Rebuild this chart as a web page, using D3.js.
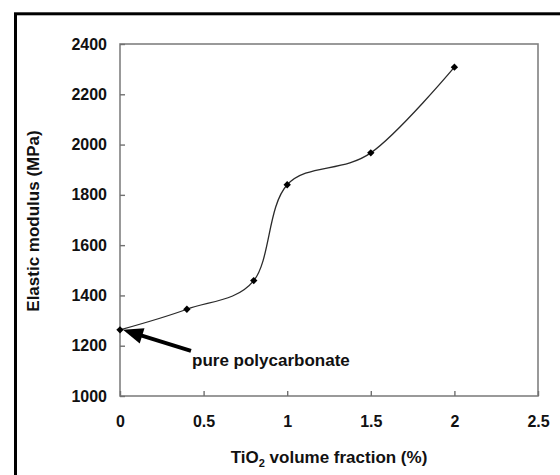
<!DOCTYPE html>
<html><head><meta charset="utf-8">
<script src="https://cdn.jsdelivr.net/npm/d3@7"></script>
<style>
html,body{margin:0;padding:0;background:#fff;}
svg{display:block;}
text{font-family:"Liberation Sans",Arial,sans-serif;font-weight:bold;fill:#111;}
</style></head>
<body><svg id="c" width="560" height="475"></svg>
<script>
const fractions = [0, 0.4, 0.8, 1.0, 1.5, 2.0];
const modulus = [1263, 1345, 1459, 1840, 1967, 2308];
const xTicks = [0, 0.5, 1, 1.5, 2, 2.5];
const yTicks = [1000, 1200, 1400, 1600, 1800, 2000, 2200, 2400];
const annotation = "pure polycarbonate";

const svg = d3.select("#c");
const L = 120, R = 538, T = 44, B = 396;
const x = d3.scaleLinear().domain([0, 2.5]).range([L, R]);
const y = d3.scaleLinear().domain([1000, 2400]).range([B, T]);

// outer frame
svg.append("rect").attr("x", 15.5).attr("y", 13.8).attr("width", 700).attr("height", 700)
  .attr("fill", "none").attr("stroke", "#000").attr("stroke-width", 3);

// plot frame
svg.append("rect").attr("x", L).attr("y", T).attr("width", R - L).attr("height", B - T)
  .attr("fill", "none").attr("stroke", "#808080").attr("stroke-width", 1.6);

const ya = svg.append("g").attr("transform", `translate(${L},0)`)
  .call(d3.axisLeft(y).tickValues(yTicks).tickSize(-5).tickPadding(13).tickFormat(d3.format("d")));
const xa = svg.append("g").attr("transform", `translate(0,${B})`)
  .call(d3.axisBottom(x).tickValues(xTicks).tickSize(-5).tickPadding(20).tickFormat(d => String(d)));
[ya, xa].forEach(g => {
  g.select(".domain").remove();
  g.selectAll(".tick line").attr("stroke", "#707070").attr("stroke-width", 1.4);
  g.selectAll(".tick text").style("font-size", "16px").style("font-family", '"Liberation Sans",Arial,sans-serif')
    .style("font-weight", "bold").attr("fill", "#111");
});

// curve
const pts = fractions.map((f, i) => [x(f), y(modulus[i])]);
svg.append("path").attr("d", d3.line().curve(d3.curveCardinal.tension(0))(pts))
  .attr("fill", "none").attr("stroke", "#2a2a2a").attr("stroke-width", 1.3);

// markers
svg.selectAll(".m").data(pts).enter().append("rect")
  .attr("x", -2.6).attr("y", -2.6).attr("width", 5.2).attr("height", 5.2)
  .attr("transform", d => `translate(${d[0]},${d[1]}) rotate(45)`)
  .attr("fill", "#000");

// arrow annotation
const tip = [x(0) + 3, y(modulus[0])];
const tail = [tip[0] + 68, tip[1] + 21];
const dx = tail[0] - tip[0], dy = tail[1] - tip[1], len = Math.hypot(dx, dy);
const ux = dx / len, uy = dy / len, hl = 20, hw = 8;
const base = [tip[0] + ux * hl, tip[1] + uy * hl];
svg.append("line").attr("x1", base[0] - ux * 2).attr("y1", base[1] - uy * 2)
  .attr("x2", tail[0]).attr("y2", tail[1]).attr("stroke", "#000").attr("stroke-width", 4);
svg.append("path").attr("d", `M${tip[0]},${tip[1]}L${base[0] - uy * hw},${base[1] + ux * hw}L${base[0] + uy * hw},${base[1] - ux * hw}Z`)
  .attr("fill", "#000");
svg.append("text").attr("x", tail[0] + 1).attr("y", tail[1] + 15).style("font-size", "17px").text(annotation);

// axis titles
const xt = svg.append("text").attr("x", (L + R) / 2).attr("y", 463).attr("text-anchor", "middle").style("font-size", "17px");
xt.append("tspan").text("TiO");
xt.append("tspan").attr("dy", 4).style("font-size", "11px").text("2");
xt.append("tspan").attr("dy", -4).text(" volume fraction (%)");

svg.append("text").attr("transform", "translate(39,221) rotate(-90)").attr("text-anchor", "middle")
  .style("font-size", "17px").text("Elastic modulus (MPa)");
</script></body></html>
